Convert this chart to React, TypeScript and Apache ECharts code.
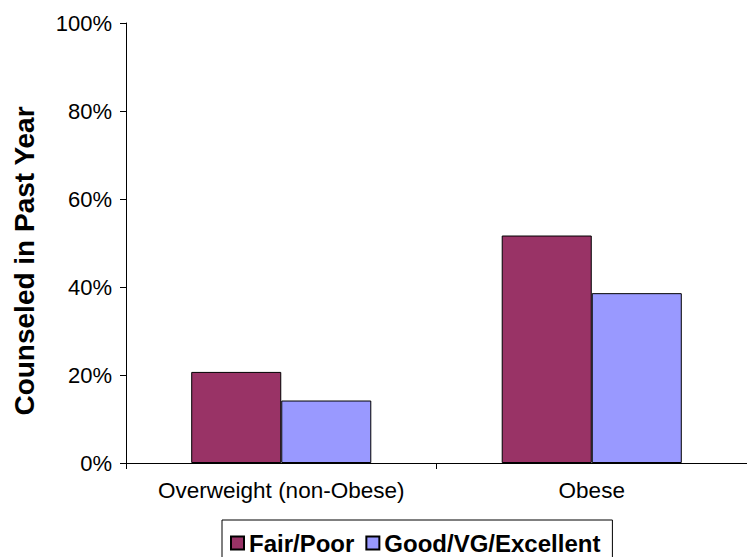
import React, { useEffect, useRef } from "react";
import * as echarts from "echarts";

const categories = ["Overweight (non-Obese)", "Obese"];
const seriesNames = ["Fair/Poor", "Good/VG/Excellent"];
const fairPoor = [20.7, 51.7];
const goodVgExcellent = [14.2, 38.6];
const yTicks = { min: 0, max: 100, interval: 20 };

const FONT = "'Liberation Sans', Arial, Helvetica, sans-serif";

export default function App() {
  const ref = useRef<HTMLDivElement>(null);

  useEffect(() => {
    if (!ref.current) return;
    const chart = echarts.init(ref.current, null, { renderer: "svg" });
    const barBorder = { borderColor: "#000", borderWidth: 1 };
    chart.setOption({
      animation: false,
      backgroundColor: "#fff",
      textStyle: { fontFamily: FONT, color: "#000" },
      grid: { left: 126, top: 23, width: 630, height: 440, containLabel: false },
      xAxis: {
        type: "category",
        data: categories,
        axisLine: { lineStyle: { color: "#000", width: 1 } },
        axisTick: { show: true, alignWithLabel: false, length: 6, lineStyle: { color: "#000" } },
        axisLabel: { color: "#000", fontSize: 22.5, fontFamily: FONT, margin: 16, interval: 0 },
      },
      yAxis: {
        type: "value",
        min: yTicks.min,
        max: yTicks.max,
        interval: yTicks.interval,
        splitLine: { show: false },
        axisLine: { show: true, lineStyle: { color: "#000", width: 1 } },
        axisTick: { show: true, length: 6, lineStyle: { color: "#000" } },
        axisLabel: { color: "#000", fontSize: 22, fontFamily: FONT, margin: 14, formatter: "{value}%" },
      },
      legend: {
        left: 222,
        top: 520,
        orient: "horizontal",
        padding: [11, 12, 12, 8],
        itemGap: 11,
        itemWidth: 13,
        itemHeight: 13,
        icon: "rect",
        borderColor: "#000",
        borderWidth: 1,
        backgroundColor: "#fff",
        textStyle: { color: "#000", fontSize: 24, fontWeight: "bold", fontFamily: FONT },
        data: seriesNames,
      },
      graphic: [
        {
          type: "text",
          x: 24,
          y: 261,
          rotation: Math.PI / 2,
          style: {
            text: "Counseled in Past Year",
            fill: "#000",
            font: `bold 28px ${FONT}`,
            align: "center",
            verticalAlign: "middle",
          },
        },
      ],
      series: [
        {
          name: seriesNames[0],
          type: "bar",
          data: fairPoor,
          barGap: "0%",
          barCategoryGap: "42%",
          itemStyle: { color: "#993366", ...barBorder },
        },
        {
          name: seriesNames[1],
          type: "bar",
          data: goodVgExcellent,
          itemStyle: { color: "#9999FF", ...barBorder },
        },
      ],
    });
    return () => chart.dispose();
  }, []);

  return (
    <div
      ref={ref}
      style={{ position: "absolute", left: 0, top: 0, width: 747, height: 557, overflow: "hidden" }}
    />
  );
}
